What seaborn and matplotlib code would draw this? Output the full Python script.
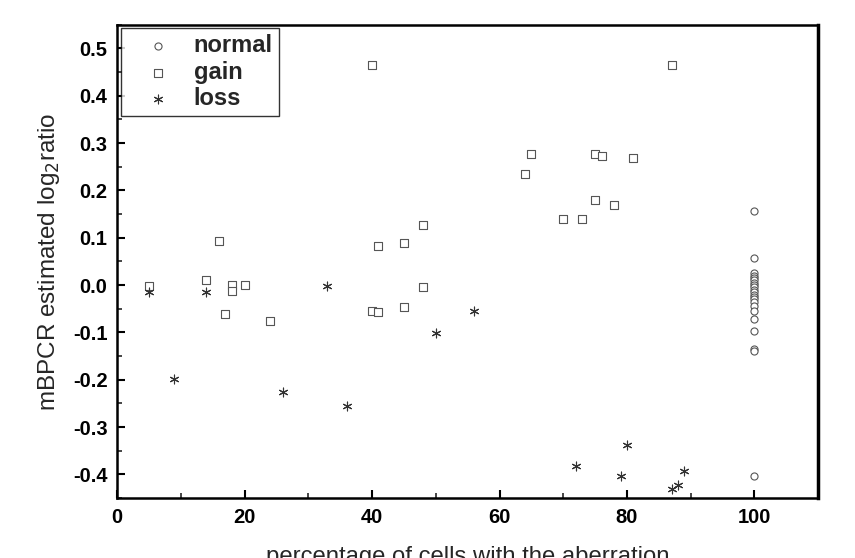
import numpy as np
import pandas as pd
import matplotlib
matplotlib.use("Agg")
import matplotlib.pyplot as plt
import seaborn as sns
from matplotlib.ticker import MultipleLocator

# ---- data ----
normal_x = [100] * 22
normal_y = [0.157, 0.058, 0.025, 0.020, 0.015, 0.010, 0.005, 0.000, -0.005,
            -0.010, -0.015, -0.020, -0.025, -0.030, -0.035, -0.045, -0.055,
            -0.072, -0.097, -0.135, -0.140, -0.404]

gain_x = [40, 16, 48, 41, 45, 5, 14, 18, 18, 20, 48, 17, 24, 40, 41, 45,
          87, 65, 64, 75, 76, 81, 75, 78, 70, 73]
gain_y = [0.466, 0.093, 0.128, 0.083, 0.089, -0.001, 0.010, 0.000, -0.013,
          0.000, -0.003, -0.062, -0.076, -0.055, -0.057, -0.047,
          0.466, 0.276, 0.235, 0.276, 0.273, 0.269, 0.180, 0.170, 0.139, 0.139]

loss_x = [5, 14, 33, 9, 26, 36, 50, 56, 72, 80, 79, 89, 88, 87]
loss_y = [-0.015, -0.015, -0.001, -0.199, -0.227, -0.255, -0.102, -0.054,
          -0.383, -0.338, -0.404, -0.393, -0.422, -0.430]

categories = ["normal", "gain", "loss"]
y_tick_labels = ["-0.4", "-0.3", "-0.2", "-0.1", "0.0", "0.1", "0.2", "0.3", "0.4", "0.5"]

df = pd.DataFrame({
    "x": normal_x + gain_x + loss_x,
    "y": normal_y + gain_y + loss_y,
    "type": ["normal"] * len(normal_x) + ["gain"] * len(gain_x) + ["loss"] * len(loss_x),
})

sns.set_theme(style="white")
plt.rcParams["font.family"] = ["Liberation Sans", "DejaVu Sans"]

fig = plt.figure(figsize=(8.55, 5.58), dpi=100)
ax = fig.add_axes([0.137, 0.1075, 0.82, 0.848])

markers = {"normal": "o", "gain": "s", "loss": (6, 2, 0)}
sizes = {"normal": 26, "gain": 26, "loss": 40}
for cat in categories:
    sub = df[df["type"] == cat]
    if cat == "loss":
        sns.scatterplot(data=sub, x="x", y="y", ax=ax, marker=markers[cat],
                        s=sizes[cat], color="#333333", linewidth=0.8, label=cat)
    else:
        sns.scatterplot(data=sub, x="x", y="y", ax=ax, marker=markers[cat],
                        s=sizes[cat], facecolor="white", edgecolor="#555555",
                        linewidth=0.8, label=cat)

ax.set_xlim(0, 110)
ax.set_ylim(-0.45, 0.55)
ax.xaxis.set_major_locator(MultipleLocator(20))
ax.xaxis.set_minor_locator(MultipleLocator(10))
ax.yaxis.set_minor_locator(MultipleLocator(0.05))
ax.set_yticks(np.arange(-0.4, 0.51, 0.1))
ax.set_yticklabels(y_tick_labels)
ax.tick_params(axis="both", which="major", direction="in", length=6, width=1.5,
               labelsize=14.5, colors="black", pad=7)
ax.tick_params(axis="both", which="minor", direction="in", length=3.5, width=1.2)
ax.tick_params(which="both", top=False, right=False, bottom=True, left=True)
for lab in ax.get_xticklabels() + ax.get_yticklabels():
    lab.set_fontweight("bold")

for s in ax.spines.values():
    s.set_visible(True)
    s.set_color("black")
    s.set_linewidth(1.8)
ax.spines["right"].set_linewidth(2.5)

ax.set_xlabel("percentage of cells with the aberration", fontsize=17.2, labelpad=14)
ax.set_ylabel(r"mBPCR estimated log$_2$ratio", fontsize=17.5, labelpad=8)

leg = ax.legend(loc="upper left", fontsize=17, frameon=True, fancybox=False,
                borderaxespad=0.15, handletextpad=0.15, labelspacing=0.15,
                borderpad=0.25, handlelength=2.7)
leg.get_frame().set_edgecolor("black")
leg.get_frame().set_linewidth(1.0)
for t in leg.get_texts():
    t.set_fontweight("bold")

fig.savefig("out.png", dpi=100)
